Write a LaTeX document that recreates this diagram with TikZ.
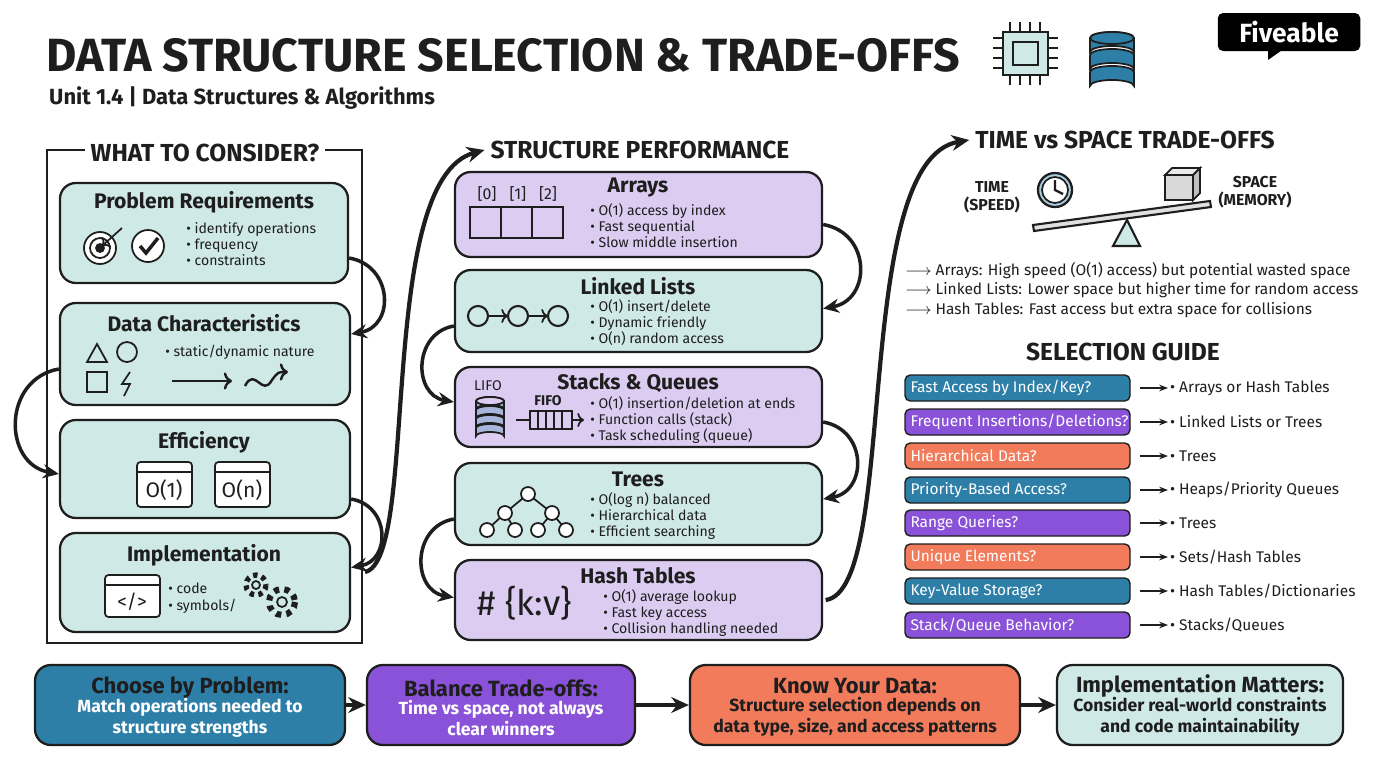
\documentclass[tikz,border=0pt]{standalone}
\usepackage{fontspec}
\setmainfont{Fira Sans}
\usetikzlibrary{arrows.meta, fit, positioning}
\definecolor{tealc}{HTML}{CFE9E6}
\definecolor{lavc}{HTML}{DCCCF1}
\definecolor{blueg}{HTML}{2E7FA8}
\definecolor{purpg}{HTML}{8A52D8}
\definecolor{orang}{HTML}{F27B5B}
\definecolor{inkc}{HTML}{1E1E1E}
\tikzset{box/.style={draw=inkc, line width=1.3pt, rounded corners=9pt, inner sep=0pt},
         tealbox/.style={box, fill=tealc}, lavbox/.style={box, fill=lavc},
         flow/.style={-{Stealth[length=10pt,width=9pt]}, line width=2.4pt, draw=inkc},
         curv/.style={-{Stealth[length=9pt,width=8pt]}, line width=2pt, draw=inkc},
         sect/.style={font=\fontsize{14}{16}\selectfont\bfseries, text=inkc},
         btitle/.style={font=\fontsize{12}{14}\selectfont\bfseries, text=inkc},
         bul/.style={font=\fontsize{8}{9.2}\selectfont, text=inkc, align=left, anchor=north west, inner sep=0pt},
         guide/.style={rounded corners=3pt, draw=inkc, line width=0.8pt, text=white, font=\fontsize{8.6}{10}\selectfont, inner sep=0pt},
         icon/.style={draw=inkc, line width=1pt}}
\begin{document}
\begin{tikzpicture}[x=0.02cm, y=-0.02cm]
\useasboundingbox (0,0) rectangle (1376,768);
\fill[white] (0,0) rectangle (1376,768);
% header
\node[anchor=west, font=\fontsize{26.5}{30}\selectfont\bfseries, text=inkc] (title) at (40,55) {DATA STRUCTURE SELECTION \& TRADE-OFFS};
\node[anchor=west, font=\fontsize{12.5}{14}\selectfont\bfseries, text=inkc] (sub) at (43,98) {Unit 1.4 | Data Structures \& Algorithms};
\node[fill=black, rounded corners=3pt, text=white, font=\fontsize{15}{17}\selectfont\bfseries, minimum width=2.85cm, minimum height=0.76cm] (logo) at (1289,32) {Fiveable};
\fill[black] (1268,48) -- (1285,48) -- (1268,60) -- cycle;
% chip + database
\draw[icon, line width=1.3pt, fill=tealc] (1003,32) rectangle (1048,75);
\draw[icon] (1013,42) rectangle (1038,65);
\foreach \k in {38,48,58,68} {\draw[icon] (993,\k) -- (1003,\k); \draw[icon] (1048,\k) -- (1058,\k);}
\foreach \k in {1010,1020,1030,1040} {\draw[icon] (\k,22) -- (\k,32); \draw[icon] (\k,75) -- (\k,85);}
\foreach \k in {72,55,38} {\draw[icon, fill=blueg] (1090,\k) -- (1090,\k+14) arc[start angle=180,end angle=360,x radius=22,y radius=6] -- (1134,\k) arc[start angle=0,end angle=180,x radius=22,y radius=-6];}
\draw[icon, fill=blueg] (1112,38) ellipse[x radius=22, y radius=6];
% what to consider
\draw[inkc, line width=1.5pt] (47,150) rectangle (362,643);
\node[sect, fill=white] (wtc) at (205,153) {WHAT TO CONSIDER?};
\node[tealbox, fit={(60,183) (348,283)}] (req) {};
\node[btitle] at (204,202) {Problem Requirements};
\node[bul] at (186,222) {\textbullet\ identify operations\\\textbullet\ frequency\\\textbullet\ constraints};
\draw[icon, fill=white] (100,248) circle (16); \draw[icon] (100,248) circle (10); \draw[icon, fill=inkc] (100,248) circle (4);
\draw[icon, ->] (122,228) -- (102,246);
\draw[icon, fill=white] (148,246) circle (16); \draw[icon, line width=2pt] (140,246) -- (146,253) -- (158,238);
\node[tealbox, fit={(60,303) (350,405)}] (data) {};
\node[btitle] at (204,323) {Data Characteristics};
\node[bul] at (165,345) {\textbullet\ static/dynamic nature};
\draw[icon] (87,362) -- (107,362) -- (97,344) -- cycle; \draw[icon] (127,352) circle (10);
\draw[icon] (87,372) rectangle (107,392); \draw[icon] (130,372) -- (122,384) -- (130,384) -- (124,396);
\draw[icon, ->, line width=1.4pt] (172,381) -- (232,381);
\draw[icon, line width=1.4pt, ->] (245,386) .. controls (255,366) and (262,398) .. (272,380) .. controls (278,372) .. (288,372);
\node[tealbox, fit={(60,420) (350,518)}] (eff) {};
\node[btitle] at (204,442) {Efficiency};
\foreach \xa/\lab in {137/O(1), 215/O(n)} {
  \draw[icon, fill=white, rounded corners=2pt] (\xa,462) rectangle (\xa+55,507);
  \draw[icon] (\xa,472) -- (\xa+55,472);
  \node[font=\fontsize{12}{14}\selectfont, text=inkc] at (\xa+27,490) {\lab};}
\node[tealbox, fit={(60,533) (350,632)}] (impl) {};
\node[btitle] at (204,555) {Implementation};
\draw[icon, fill=white, rounded corners=2pt] (105,575) rectangle (160,617); \draw[icon] (105,585) -- (160,585);
\node[font=\fontsize{11}{13}\selectfont, text=inkc] at (132,602) {</>};
\node[bul] at (168,583) {\textbullet\ code\\\textbullet\ symbols/};
\draw[inkc, line width=3pt, dash pattern=on 2.5pt off 2.5pt] (256,585) circle (10); \draw[icon] (256,585) circle (4);
\draw[inkc, line width=3.5pt, dash pattern=on 3pt off 3pt] (282,602) circle (13); \draw[icon] (282,602) circle (5);
\draw[curv] ([yshift=-0.5cm]req.east) to[out=-10, in=10, looseness=1.5] ([yshift=0.4cm]data.east);
\draw[curv] ([yshift=-0.3cm]data.west) to[out=190, in=170, looseness=1.4] ([yshift=-0.1cm]eff.west);
\draw[curv] ([yshift=-0.6cm]eff.east) to[out=-10, in=10, looseness=1.5] ([yshift=0.3cm]impl.east);
% structure performance
\node[sect] (sp) at (640,150) {STRUCTURE PERFORMANCE};
\draw[flow] (365,572) .. controls (420,560) and (375,180) .. (sp.west);
\node[lavbox, fit={(455,172) (822,257)}] (arr) {};
\node[btitle] at (638,188) {Arrays};
\node[bul] at (590,203) {\textbullet\ O(1) access by index\\\textbullet\ Fast sequential\\\textbullet\ Slow middle insertion};
\foreach \i/\xa in {0/487,1/518,2/548} {\node[font=\fontsize{9}{10}\selectfont, text=inkc] at (\xa,194) {[\i]};}
\draw[icon, line width=1.2pt] (470,207) rectangle (563,238); \draw[icon] (501,207) -- (501,238); \draw[icon] (532,207) -- (532,238);
\node[tealbox, fit={(455,270) (822,352)}] (ll) {};
\node[btitle] at (638,286) {Linked Lists};
\node[bul] at (590,299) {\textbullet\ O(1) insert/delete\\\textbullet\ Dynamic friendly\\\textbullet\ O(n) random access};
\foreach \xa in {478,518,558} {\draw[icon, line width=1.2pt] (\xa,316) circle (10);}
\draw[icon, ->] (488,316) -- (508,316); \draw[icon, ->] (528,316) -- (548,316);
\node[lavbox, fit={(455,367) (822,447)}] (stk) {};
\node[btitle] at (638,383) {Stacks \& Queues};
\node[bul] at (590,396) {\textbullet\ O(1) insertion/deletion at ends\\\textbullet\ Function calls (stack)\\\textbullet\ Task scheduling (queue)};
\node[font=\fontsize{8}{9}\selectfont, text=inkc] at (488,386) {LIFO};
\foreach \k in {428,419,410,401} {\draw[icon, fill=lavc!70!blueg] (476,\k) -- (476,\k+8) arc[start angle=180,end angle=360,x radius=14,y radius=4] -- (504,\k) arc[start angle=0,end angle=180,x radius=14,y radius=-4];}
\draw[icon, fill=lavc] (490,401) ellipse[x radius=14, y radius=4];
\node[font=\fontsize{8}{9}\selectfont\bfseries, text=inkc] at (548,401) {FIFO};
\draw[icon] (530,411) rectangle (572,429); \foreach \xa in {538,546,554,562} {\draw[icon] (\xa,411) -- (\xa,429);}
\draw[icon] (516,420) -- (530,420); \draw[icon, ->] (572,420) -- (584,420);
\node[tealbox, fit={(455,463) (822,545)}] (tree) {};
\node[btitle] at (638,479) {Trees};
\node[bul] at (590,492) {\textbullet\ O(log n) balanced\\\textbullet\ Hierarchical data\\\textbullet\ Efficient searching};
\draw[icon] (528,494) -- (505,513) -- (487,530) (505,513) -- (515,530) (528,494) -- (552,513) -- (538,530) (552,513) -- (566,530);
\foreach \p in {(528,494),(505,513),(552,513),(487,530),(515,530),(538,530),(566,530)} {\draw[icon, fill=white] \p circle (7);}
\node[lavbox, fit={(455,560) (822,640)}] (hash) {};
\node[btitle] at (638,576) {Hash Tables};
\node[bul] at (603,589) {\textbullet\ O(1) average lookup\\\textbullet\ Fast key access\\\textbullet\ Collision handling needed};
\node[font=\fontsize{20}{22}\selectfont, text=inkc] at (525,603) {\# \{k:v\}};
\draw[curv] ([yshift=-0.2cm]arr.east) to[out=-10, in=10, looseness=1.5] ([yshift=0.05cm]ll.east);
\draw[curv] ([yshift=-0.3cm]ll.west) to[out=190, in=170, looseness=1.4] ([yshift=0.1cm]stk.west);
\draw[curv] ([yshift=-0.3cm]stk.east) to[out=-10, in=10, looseness=1.5] ([yshift=0.1cm]tree.east);
\draw[curv] ([yshift=-0.3cm]tree.west) to[out=190, in=170, looseness=1.4] ([yshift=0.05cm]hash.west);
% time vs space
\node[sect] (tvs) at (1125,140) {TIME vs SPACE TRADE-OFFS};
\draw[flow] ([xshift=0.05cm]hash.east) .. controls (900,590) and (850,160) .. (tvs.west);
\node[font=\fontsize{9}{10.5}\selectfont\bfseries, align=center, text=inkc] (tm) at (992,197) {TIME\\(SPEED)};
\node[font=\fontsize{9}{10.5}\selectfont\bfseries, align=center, text=inkc] (spc) at (1255,192) {SPACE\\(MEMORY)};
\draw[icon, line width=1.3pt, fill=blueg!40] (1055,190) circle (17); \draw[icon, fill=white] (1055,190) circle (13);
\draw[icon, line width=1.3pt] (1055,180) -- (1055,190) -- (1063,194);
\draw[icon, fill=black!15] (1165,175) rectangle (1193,200); \draw[icon, fill=black!8] (1165,175) -- (1172,168) -- (1200,168) -- (1193,175) -- cycle;
\draw[icon, fill=black!25] (1193,175) -- (1200,168) -- (1200,193) -- (1193,200) -- cycle;
\draw[icon, fill=tealc, line width=1.2pt] (1113,246) -- (1140,246) -- (1127,220) -- cycle;
\draw[icon, fill=black!12, line width=1.2pt] (1033,225) -- (1210,201) -- (1211,207) -- (1034,231) -- cycle;
\node[bul, font=\fontsize{8.8}{10}\selectfont] (t1) at (905,262) {$\longrightarrow$\ Arrays: High speed (O(1) access) but potential wasted space};
\node[bul, font=\fontsize{8.8}{10}\selectfont] (t2) at (905,282) {$\longrightarrow$\ Linked Lists: Lower space but higher time for random access};
\node[bul, font=\fontsize{8.8}{10}\selectfont] (t3) at (905,302) {$\longrightarrow$\ Hash Tables: Fast access but extra space for collisions};
% selection guide
\node[sect] (sg) at (1123,352) {SELECTION GUIDE};
\foreach \yy/\col/\q/\ans [count=\n] in {
  388/blueg/{Fast Access by Index/Key?}/{Arrays or Hash Tables},
  422/purpg/{Frequent Insertions/Deletions?}/{Linked Lists or Trees},
  456/orang/{Hierarchical Data?}/{Trees},
  490/blueg/{Priority-Based Access?}/{Heaps/Priority Queues},
  523/purpg/{Range Queries?}/{Trees},
  557/orang/{Unique Elements?}/{Sets/Hash Tables},
  591/blueg/{Key-Value Storage?}/{Hash Tables/Dictionaries},
  625/purpg/{Stack/Queue Behavior?}/{Stacks/Queues}} {
  \node[guide, fill=\col, fit={(905,\yy-13) (1130,\yy+13)}] (g\n) {};
  \node[anchor=west, text=white, font=\fontsize{8.8}{10}\selectfont] at (g\n.west) {\q};
  \node[anchor=west, text=inkc, font=\fontsize{8.8}{10}\selectfont, inner sep=1pt] (a\n) at (1168,\yy) {\textbullet\ \ans};
  \draw[-{Stealth[length=5pt]}, line width=0.9pt, inkc] ([xshift=5pt]g\n.east) -- (a\n.west);}
% bottom bar
\node[box, fill=blueg, fit={(35,665) (345,745)}] (b1) {};
\node[align=center, text=inkc, font=\fontsize{12.5}{14}\selectfont\bfseries] at (190,688) {Choose by Problem:};
\node[align=center, text=white, font=\fontsize{10}{12}\selectfont\bfseries] at (190,718) {Match operations needed to\\structure strengths};
\node[box, fill=purpg, fit={(367,665) (635,745)}] (b2) {};
\node[align=center, text=inkc, font=\fontsize{12.5}{14}\selectfont\bfseries] at (501,688) {Balance Trade-offs:};
\node[align=center, text=white, font=\fontsize{10}{12}\selectfont\bfseries] at (501,718) {Time vs space, not always\\clear winners};
\node[box, fill=orang, fit={(690,665) (1020,745)}] (b3) {};
\node[align=center, text=inkc, font=\fontsize{12.5}{14}\selectfont\bfseries] at (855,686) {Know Your Data:};
\node[align=center, text=inkc, font=\fontsize{10}{12}\selectfont\bfseries] at (855,717) {Structure selection depends on\\data type, size, and access patterns};
\node[box, fill=tealc, fit={(1057,665) (1343,745)}] (b4) {};
\node[align=center, text=inkc, font=\fontsize{12.5}{14}\selectfont\bfseries] at (1200,686) {Implementation Matters:};
\node[align=center, text=inkc, font=\fontsize{10}{12}\selectfont\bfseries] at (1200,717) {Consider real-world constraints\\and code maintainability};
\draw[flow] (b1) -- (b2); \draw[flow] (b2) -- (b3); \draw[flow] (b3) -- (b4);
\end{tikzpicture}
\end{document}
